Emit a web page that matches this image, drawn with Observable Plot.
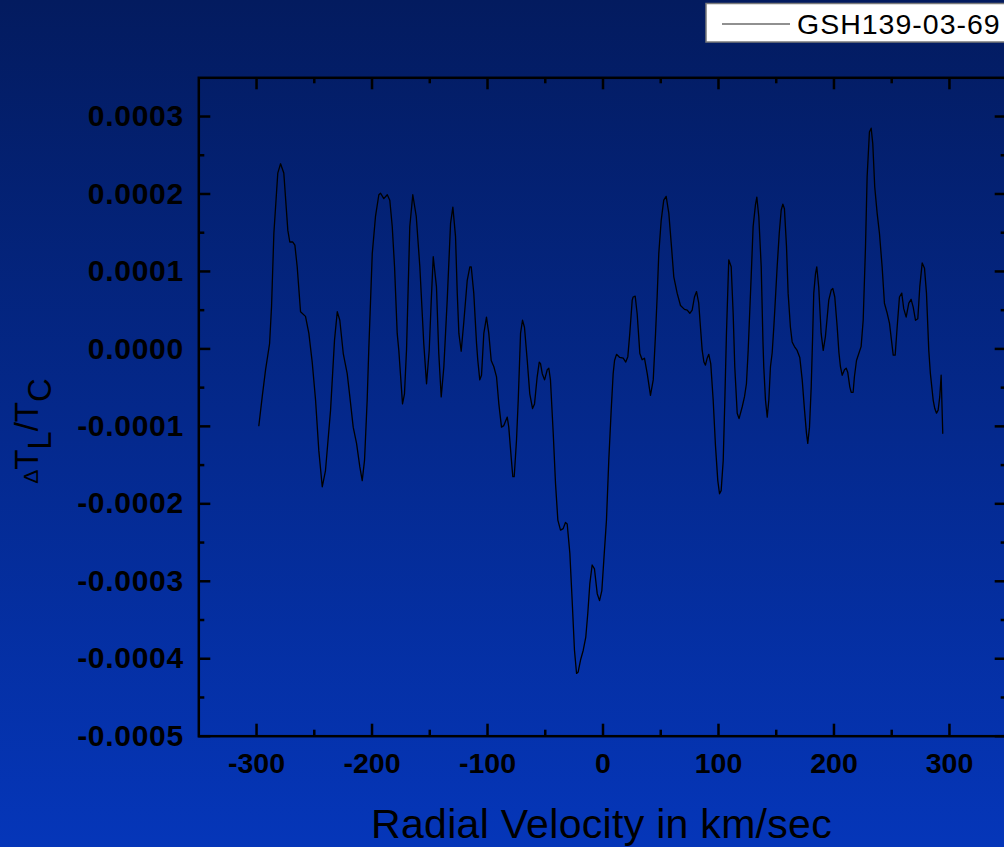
<!DOCTYPE html>
<html><head><meta charset="utf-8">
<script src="https://cdn.jsdelivr.net/npm/d3@7"></script>
<script src="https://cdn.jsdelivr.net/npm/@observablehq/plot@0.6"></script>
<style>
html,body{margin:0;padding:0;overflow:hidden;}
body{width:1004px;height:847px;background:linear-gradient(to bottom,#031b5f 0%,#0536b9 100%);}
#chart{position:relative;width:1004px;height:847px;overflow:hidden;}
#chart svg{display:block;}
</style></head><body><div id="chart"></div>
<script>
const seriesName = "GSH139-03-69";
const xTitle = "Radial Velocity in km/sec";
const xTicks = [-300, -200, -100, 0, 100, 200, 300];
const xTickLabels = ["-300", "-200", "-100", "0", "100", "200", "300"];
const xMinorTicks = [-250, -150, -50, 50, 150, 250];
const yTicks = [0.0003, 0.0002, 0.0001, 0, -0.0001, -0.0002, -0.0003, -0.0004, -0.0005];
const yTickLabels = ["0.0003", "0.0002", "0.0001", "0.0000", "-0.0001", "-0.0002", "-0.0003", "-0.0004", "-0.0005"];
const yMinorTicks = [0.00025, 0.00015, 0.00005, -0.00005, -0.00015, -0.00025, -0.00035, -0.00045];

const velocity = [-298.0,-295.1,-292.2,-288.7,-287.0,-285.0,-281.6,-279.2,-276.4,-272.9,
-271.2,-268.6,-266.8,-264.8,-261.9,-257.6,-254.7,-251.8,-248.9,-246.1,
-243.1,-240.3,-235.9,-232.5,-230.1,-227.9,-224.9,-221.5,-219.2,-216.3,
-213.4,-210.6,-208.5,-206.5,-204.2,-202.8,-199.8,-197.0,-194.1,-192.6,
-189.8,-186.8,-184.6,-182.5,-180.5,-178.2,-176.8,-173.6,-171.9,-170.1,
-167.3,-164.7,-161.7,-158.6,-155.2,-152.8,-150.5,-148.7,-147.0,-144.2,
-142.2,-140.1,-137.8,-134.9,-132.0,-130.0,-127.7,-126.2,-124.8,-122.8,
-120.5,-117.6,-115.3,-114.1,-111.9,-109.5,-108.4,-106.7,-105.2,-103.2,
-100.9,-98.9,-96.8,-94.5,-92.2,-90.2,-87.9,-85.9,-82.9,-81.6,
-79.5,-78.1,-76.9,-74.9,-73.4,-71.4,-69.7,-68.0,-65.6,-63.4,
-61.0,-59.3,-57.0,-55.2,-54.1,-52.6,-50.6,-48.3,-46.9,-45.5,
-43.1,-41.1,-39.1,-36.8,-34.5,-32.5,-31.0,-28.7,-26.7,-24.7,
-22.9,-21.5,-19.5,-17.1,-14.9,-13.2,-11.4,-9.4,-7.4,-5.0,
-3.0,-1.0,0.7,3.0,5.0,7.1,8.8,10.0,11.7,14.5,
17.5,19.7,21.5,23.2,25.3,26.1,27.9,29.6,31.9,33.9,
35.9,38.3,41.1,43.5,45.5,46.9,48.3,50.4,52.6,54.7,
57.0,59.3,61.3,64.2,67.1,70.6,72.9,75.2,77.2,79.2,
81.0,82.9,84.4,85.9,87.4,88.7,90.2,91.6,93.3,95.4,
97.4,99.4,100.9,102.3,104.1,105.5,106.9,108.9,111.0,112.7,
114.1,116.2,117.8,120.5,122.5,124.2,125.7,128.3,130.0,132.0,
133.2,134.9,137.0,138.5,139.2,140.7,142.2,143.6,145.0,146.5,
147.9,148.9,150.8,152.6,154.3,155.7,157.1,158.9,160.3,162.3,
163.8,165.8,168.1,170.4,172.5,174.5,176.2,177.3,178.8,180.3,
181.6,182.5,184.0,185.1,186.8,188.9,190.7,192.6,195.5,197.6,
199.0,200.7,202.8,204.3,205.6,207.1,209.1,210.6,211.9,213.7,
214.9,216.6,217.7,219.5,221.5,223.5,225.3,227.3,228.7,230.7,
232.2,233.6,235.3,237.4,239.4,241.7,243.7,246.1,248.1,249.8,
251.3,253.0,254.7,256.7,258.7,260.4,262.5,264.8,266.8,268.6,
270.6,272.6,274.3,276.4,278.4,280.1,282.1,283.5,285.9,287.3,
288.8,290.2,291.6,292.8,294.2];

const deltaT = [-0.99e-4,-0.62e-4,-0.27e-4,0.07e-4,0.55e-4,1.49e-4,2.27e-4,2.39e-4,2.27e-4,1.53e-4,
1.38e-4,1.38e-4,1.34e-4,1.06e-4,0.48e-4,0.42e-4,0.2e-4,-0.17e-4,-0.66e-4,-1.31e-4,
-1.78e-4,-1.57e-4,-0.79e-4,0.11e-4,0.48e-4,0.37e-4,-0.06e-4,-0.32e-4,-0.62e-4,-1.01e-4,
-1.22e-4,-1.52e-4,-1.70e-4,-1.44e-4,-0.66e-4,0,1.23e-4,1.71e-4,1.99e-4,2.01e-4,
1.94e-4,1.99e-4,1.92e-4,1.58e-4,1.06e-4,0.2e-4,-0.02e-4,-0.71e-4,-0.58e-4,0,
1.58e-4,1.99e-4,1.71e-4,1.06e-4,0.07e-4,-0.45e-4,-0.02e-4,0.63e-4,1.19e-4,0.8e-4,
-0.06e-4,-0.62e-4,-0.23e-4,0.63e-4,1.62e-4,1.83e-4,1.45e-4,0.72e-4,0.2e-4,-0.03e-4,
0.35e-4,0.88e-4,1.06e-4,1.06e-4,0.72e-4,0.07e-4,-0.15e-4,-0.4e-4,-0.34e-4,0.2e-4,
0.41e-4,0.2e-4,-0.15e-4,-0.23e-4,-0.36e-4,-0.71e-4,-1.01e-4,-0.99e-4,-0.88e-4,-1.01e-4,
-1.40e-4,-1.65e-4,-1.65e-4,-1.18e-4,-0.66e-4,0.2e-4,0.37e-4,0.28e-4,-0.15e-4,-0.58e-4,
-0.77e-4,-0.71e-4,-0.36e-4,-0.17e-4,-0.19e-4,-0.32e-4,-0.4e-4,-0.27e-4,-0.25e-4,-0.4e-4,
-1.09e-4,-1.74e-4,-2.21e-4,-2.34e-4,-2.32e-4,-2.24e-4,-2.26e-4,-2.64e-4,-3.25e-4,-3.89e-4,
-4.19e-4,-4.17e-4,-4.02e-4,-3.89e-4,-3.72e-4,-3.42e-4,-3.03e-4,-2.79e-4,-2.84e-4,-3.16e-4,
-3.25e-4,-3.12e-4,-2.73e-4,-2.21e-4,-1.44e-4,-0.79e-4,-0.32e-4,-0.15e-4,-0.07e-4,-0.11e-4,
-0.12e-4,-0.17e-4,-0.1e-4,0.2e-4,0.63e-4,0.67e-4,0.68e-4,0.45e-4,-0.06e-4,-0.14e-4,
-0.12e-4,-0.32e-4,-0.6e-4,-0.4e-4,0.2e-4,0.68e-4,1.23e-4,1.66e-4,1.92e-4,1.97e-4,
1.75e-4,1.32e-4,0.93e-4,0.72e-4,0.56e-4,0.51e-4,0.5e-4,0.46e-4,0.5e-4,0.67e-4,
0.74e-4,0.59e-4,0.28e-4,-0.02e-4,-0.17e-4,-0.21e-4,-0.12e-4,-0.07e-4,-0.19e-4,-0.66e-4,
-1.25e-4,-1.70e-4,-1.87e-4,-1.83e-4,-1.44e-4,-0.66e-4,0.2e-4,1.15e-4,1.06e-4,0.46e-4,
-0.23e-4,-0.83e-4,-0.9e-4,-0.75e-4,-0.62e-4,-0.45e-4,-0.02e-4,0.93e-4,1.58e-4,1.86e-4,
1.96e-4,1.71e-4,1.06e-4,0.1e-4,-0.23e-4,-0.66e-4,-0.88e-4,-0.66e-4,-0.23e-4,-0.05e-4,
0.28e-4,0.54e-4,1.06e-4,1.49e-4,1.79e-4,1.87e-4,1.81e-4,1.32e-4,0.72e-4,0.28e-4,
0.09e-4,0.03e-4,-0.02e-4,-0.11e-4,-0.4e-4,-0.79e-4,-1.09e-4,-1.22e-4,-1.01e-4,-0.49e-4,
0.2e-4,0.72e-4,0.97e-4,1.06e-4,0.8e-4,0.2e-4,-0.02e-4,0.16e-4,0.63e-4,0.76e-4,
0.78e-4,0.67e-4,0.28e-4,-0.05e-4,-0.23e-4,-0.34e-4,-0.27e-4,-0.25e-4,-0.3e-4,-0.49e-4,
-0.56e-4,-0.56e-4,-0.36e-4,-0.15e-4,-0.06e-4,0.03e-4,0.37e-4,1.32e-4,2.22e-4,2.80e-4,
2.85e-4,2.65e-4,2.09e-4,1.75e-4,1.49e-4,1.06e-4,0.59e-4,0.46e-4,0.33e-4,0.11e-4,
-0.08e-4,-0.08e-4,0.28e-4,0.67e-4,0.72e-4,0.52e-4,0.41e-4,0.59e-4,0.64e-4,0.54e-4,
0.37e-4,0.39e-4,0.8e-4,1.11e-4,1.04e-4,0.72e-4,-0.02e-4,-0.32e-4,-0.66e-4,-0.77e-4,
-0.83e-4,-0.79e-4,-0.62e-4,-0.34e-4,-1.09e-4];

const data = velocity.map((v, i) => ({v, dt: deltaT[i]}));

const W = 1010, H = 847;
const mL = 198.3, mR = 3.3, mT = 77.3, mB = 111.3;
const innerW = W - mL - mR, innerH = H - mT - mB;
const font = "'Liberation Sans', Arial, Helvetica, sans-serif";
const major = 12, minor = 6, tickW = 2.5;

const plot = Plot.plot({
  width: W, height: H,
  marginLeft: mL, marginRight: mR, marginTop: mT, marginBottom: mB,
  style: {background: "transparent", maxWidth: "none", fontFamily: font, color: "black", overflow: "visible"},
  x: {domain: [-350, 350], axis: null},
  y: {domain: [-0.0005, 0.00035], axis: null},
  marks: [
    Plot.line(data, {x: "v", y: "dt", stroke: "black", strokeWidth: 1.3}),
    Plot.frame({stroke: "black", strokeWidth: 2.5}),
    Plot.tickX(xTicks, {x: d => d, insetTop: innerH - major, stroke: "black", strokeWidth: tickW}),
    Plot.tickX(xMinorTicks, {x: d => d, insetTop: innerH - minor, stroke: "black", strokeWidth: tickW}),
    Plot.tickX(xTicks, {x: d => d, insetBottom: innerH - major, stroke: "black", strokeWidth: tickW}),
    Plot.tickX(xMinorTicks, {x: d => d, insetBottom: innerH - minor, stroke: "black", strokeWidth: tickW}),
    Plot.tickY(yTicks, {y: d => d, insetRight: innerW - major, stroke: "black", strokeWidth: tickW}),
    Plot.tickY(yMinorTicks, {y: d => d, insetRight: innerW - minor, stroke: "black", strokeWidth: tickW}),
    Plot.tickY(yTicks, {y: d => d, insetLeft: innerW - major, stroke: "black", strokeWidth: tickW}),
    Plot.tickY(yMinorTicks, {y: d => d, insetLeft: innerW - minor, stroke: "black", strokeWidth: tickW}),
    Plot.text(xTicks, {x: d => d, text: (d, i) => xTickLabels[i], frameAnchor: "bottom", dy: 27.6, lineAnchor: "middle", fontSize: 28.5, fontWeight: "bold", fill: "black"}),
    Plot.text(yTicks, {y: d => d, text: (d, i) => yTickLabels[i], frameAnchor: "left", dx: -15, textAnchor: "end", lineAnchor: "middle", fontSize: 30, fontWeight: "bold", fill: "black", style: {letterSpacing: "0.7px"}})
  ]
});

const svg = d3.select(plot);
svg.selectAll("text").filter(function() { return yTickLabels.includes(this.textContent); }).attr("letter-spacing", 0.7);

// x title
svg.append("text")
  .attr("x", 601.5).attr("y", 838)
  .attr("text-anchor", "middle")
  .attr("font-family", font).attr("font-size", 41).attr("letter-spacing", 0.3)
  .attr("fill", "black")
  .text(xTitle);

// y title: ΔT_L/T_C
const yt = svg.append("text")
  .attr("transform", "translate(38,431) rotate(-90)")
  .attr("text-anchor", "middle")
  .attr("font-family", font).attr("font-size", 33)
  .attr("fill", "black");
yt.append("tspan").attr("font-size", 21).text("Δ");
yt.append("tspan").text("T");
yt.append("tspan").attr("dy", 13).text("L");
yt.append("tspan").attr("dy", -13).text("/T");
yt.append("tspan").attr("dy", 13).text("C");

// legend
const lg = svg.append("g").attr("text-anchor", "start");
lg.append("rect").attr("x", 706).attr("y", 3.5).attr("width", 310).attr("height", 38.5)
  .attr("fill", "white").attr("stroke", "#7a7a7a").attr("stroke-width", 1.5);
lg.append("line").attr("x1", 722).attr("x2", 790).attr("y1", 24).attr("y2", 24)
  .attr("stroke", "#222").attr("stroke-width", 1.2);
lg.append("text").attr("x", 797).attr("y", 34.3)
  .attr("text-anchor", "start")
  .attr("font-family", font).attr("font-size", 28.5).attr("letter-spacing", 1)
  .attr("fill", "black")
  .text(seriesName);

document.getElementById("chart").appendChild(plot);
</script>
</body></html>
